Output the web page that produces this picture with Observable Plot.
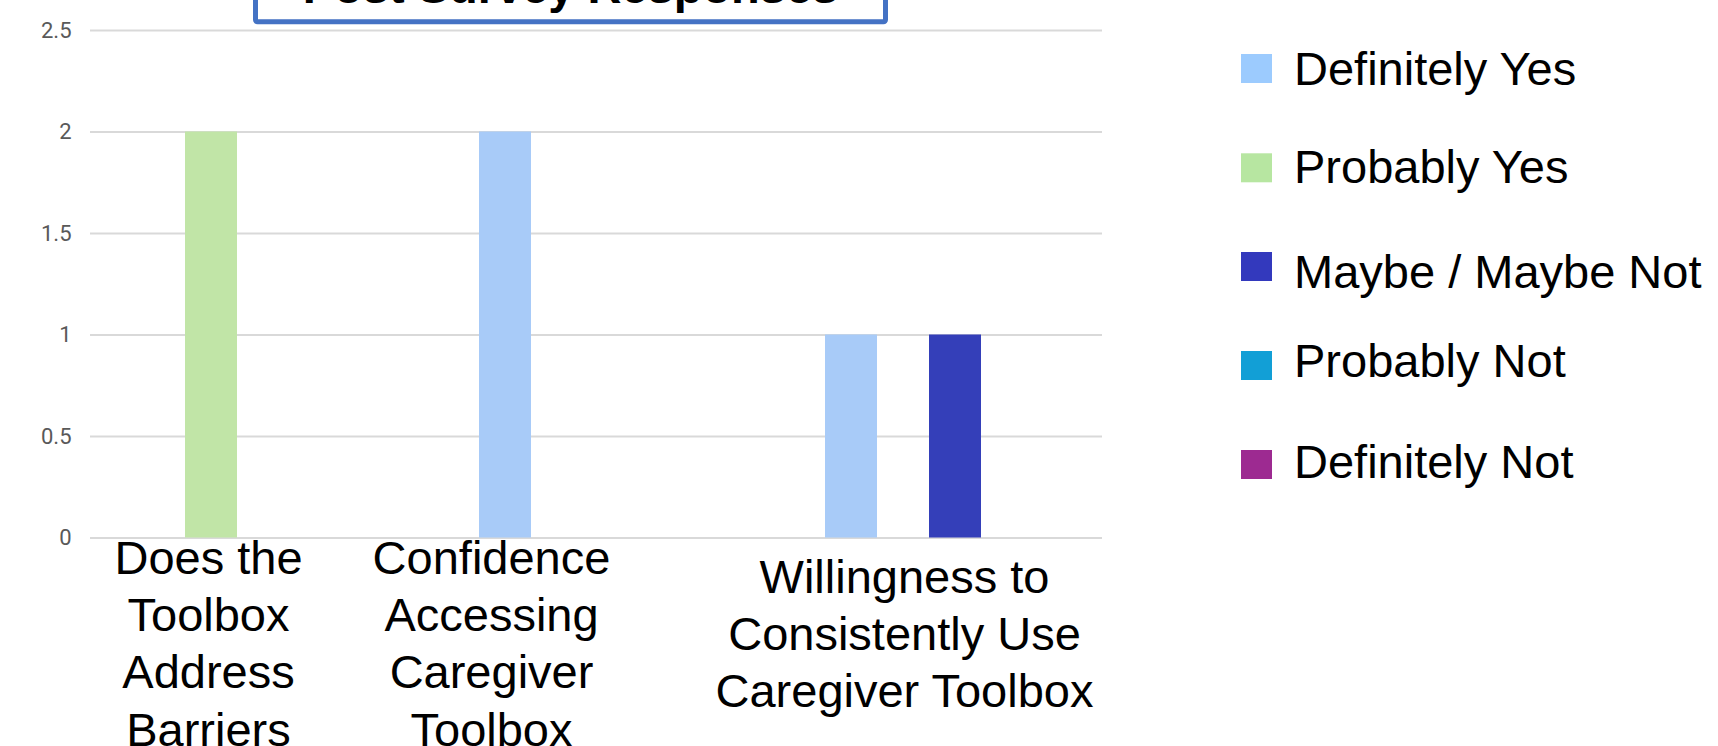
<!DOCTYPE html>
<html>
<head>
<meta charset="utf-8">
<script src="https://cdn.jsdelivr.net/npm/d3@7"></script>
<script src="https://cdn.jsdelivr.net/npm/@observablehq/plot@0.6"></script>
<style>
  body { margin: 0; background: #fff; }
  #wrap { position: relative; width: 1718px; height: 746px; overflow: hidden; background: #fff; }
  #chart { position: absolute; left: 0; top: 0; width: 1102px; height: 746px; overflow: hidden; }
  #chart svg { max-width: none !important; }
  #overlay { position: absolute; left: 0; top: 0; pointer-events: none; }
</style>
</head>
<body>
<div id="wrap">
  <div id="chart"></div>
  <svg id="overlay" width="1718" height="746"></svg>
</div>
<script>
// ---- data ----
const title = "Post Survey Responses";
const questions = [
  "Does the Toolbox Address Barriers",
  "Confidence Accessing Caregiver Toolbox",
  "Willingness to Consistently Use Caregiver Toolbox"
];
const questionLines = [
  ["Does the", "Toolbox", "Address", "Barriers"],
  ["Confidence", "Accessing", "Caregiver", "Toolbox"],
  ["Willingness to", "Consistently Use", "Caregiver Toolbox"]
];
const responses = ["Definitely Yes", "Probably Yes", "Maybe / Maybe Not", "Probably Not", "Definitely Not"];
const definitelyYes = [0, 2, 1];
const probablyYes   = [2, 0, 0];
const maybeNot      = [0, 0, 1];
const probablyNot   = [0, 0, 0];
const definitelyNot = [0, 0, 0];
const yTicks = [0, 0.5, 1, 1.5, 2, 2.5];

// ---- styles ----
const barColors    = ["#a8cbf8", "#c1e5a7", "#343fb9", "#129fd6", "#9d2a91"];
const legendColors = ["#9ccbfe", "#b7e6a1", "#3339bd", "#129fd6", "#9d2a91"];

const seriesValues = [definitelyYes, probablyYes, maybeNot, probablyNot, definitelyNot];
const rows = questions.flatMap((q, i) =>
  responses.map((r, j) => ({question: q, response: r, value: seriesValues[j][i]}))
);

const labelFont = "'Liberation Sans', Arial, sans-serif";
const labelOffsets = [{dx: -55, dy: -5}, {dx: -118, dy: -5}, {dx: -51, dy: 14}];
const labelMarks = questions.map((q, i) =>
  Plot.text([q], {
    fx: d => d,
    x: () => responses[2],
    y: () => 0,
    text: () => questionLines[i].join("\n"),
    lineAnchor: "top",
    lineHeight: 1.22,
    textAnchor: "middle",
    fontSize: 47,
    fontFamily: labelFont,
    fill: "#000",
    dx: labelOffsets[i].dx,
    dy: labelOffsets[i].dy
  })
);

const chart = Plot.plot({
  width: 1149,
  height: 746,
  marginLeft: 89,
  marginRight: 20,
  marginTop: 30,
  marginBottom: 208.5,
  style: {fontFamily: "Roboto, 'Liberation Sans', Arial, sans-serif", fontSize: "22px", color: "#595959", background: "white", overflow: "visible", maxWidth: "none"},
  fx: {domain: questions, padding: 0, axis: null, label: null},
  x: {domain: responses, paddingInner: 0, paddingOuter: 0.766, axis: null},
  y: {domain: [0, 2.5], axis: null},
  color: {domain: responses, range: barColors},
  marks: [
    Plot.ruleY(yTicks, {stroke: "#d9d9d9", strokeWidth: 2}),
    Plot.axisY({ticks: yTicks, tickFormat: d => String(d), tickSize: 0, tickPadding: 19, label: null, fontSize: 22, fill: "#595959", fontFamily: "Roboto, 'Liberation Sans', Arial, sans-serif"}),
    Plot.barY(rows, {fx: "question", x: "response", y: "value", fill: "response"}),
    ...labelMarks
  ]
});
document.getElementById("chart").appendChild(chart);

// ---- overlay: title box and legend ----
const ov = d3.select("#overlay");
ov.append("rect")
  .attr("x", 255.5).attr("y", -60).attr("width", 630).attr("height", 81.8)
  .attr("rx", 2)
  .attr("fill", "#fff").attr("stroke", "#4472c4").attr("stroke-width", 5);
ov.append("text")
  .attr("x", 570.5).attr("y", 3)
  .attr("text-anchor", "middle")
  .attr("font-family", labelFont)
  .attr("font-weight", "bold")
  .attr("font-size", 47)
  .attr("fill", "#000")
  .text(title);

const legendSquareTops = [54, 153.3, 252, 351, 450];
const legendBaselines = [85, 183.3, 288.3, 376.7, 478.3];
const lg = ov.append("g");
responses.forEach((r, i) => {
  lg.append("rect")
    .attr("x", 1241).attr("y", legendSquareTops[i])
    .attr("width", 31).attr("height", 29)
    .attr("fill", legendColors[i]);
  lg.append("text")
    .attr("x", 1294).attr("y", legendBaselines[i])
    .attr("font-family", labelFont)
    .attr("font-size", 47)
    .attr("fill", "#000")
    .text(r);
});
</script>
</body>
</html>
